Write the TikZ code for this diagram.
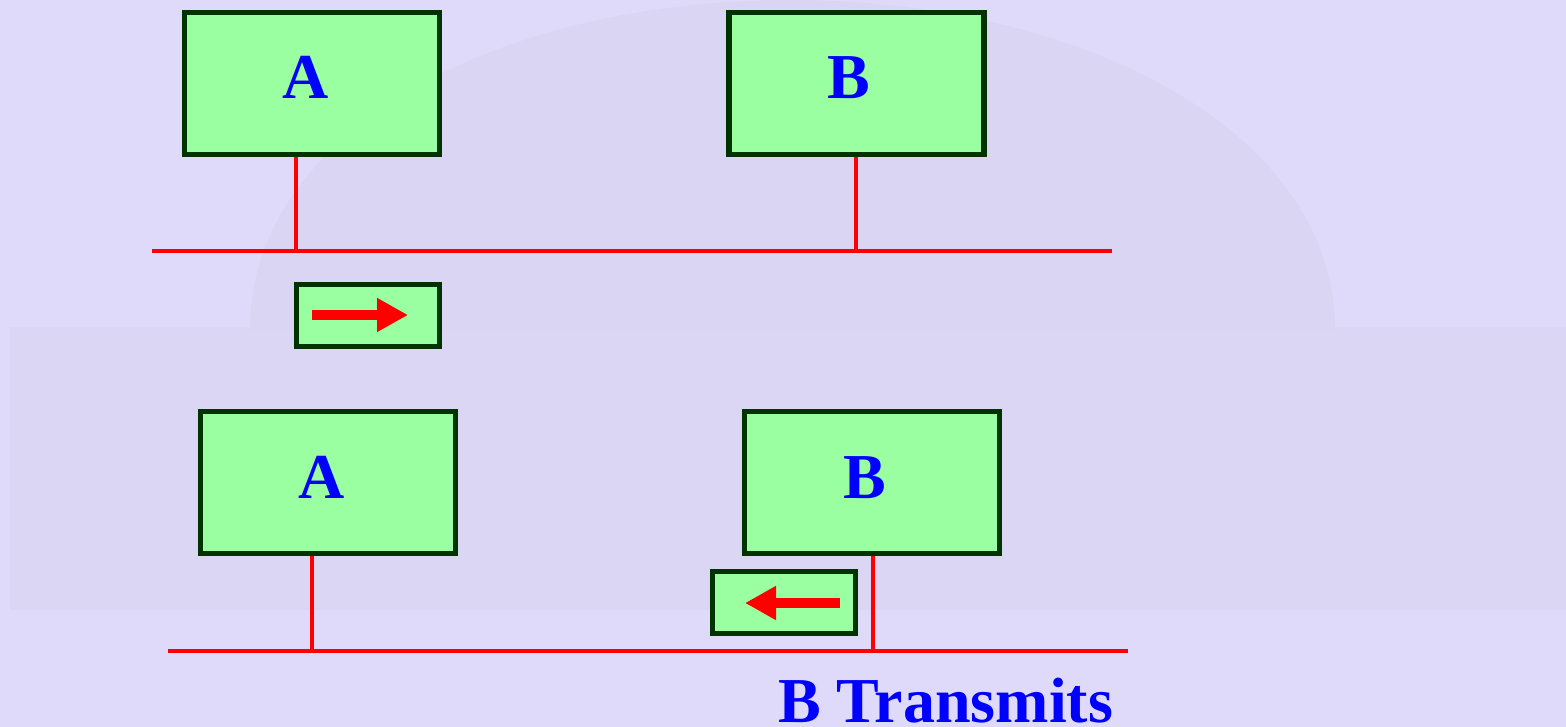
\documentclass[tikz,border=0pt]{standalone}
\usepackage{fontspec}
\setmainfont{Liberation Serif}
\usetikzlibrary{arrows.meta}
\definecolor{pagebg}{HTML}{DFDAFA}
\definecolor{photoband}{HTML}{DAD6F3}
\definecolor{dome}{HTML}{D9D5F2}
\definecolor{stationfill}{HTML}{99FFA0}
\definecolor{stationedge}{HTML}{003300}
\definecolor{labelblue}{HTML}{0000FF}
\definecolor{wire}{HTML}{FF0000}
\tikzset{
  station/.style={draw=stationedge, fill=stationfill, line width=5.5pt,
    minimum width=255pt, minimum height=142pt, inner sep=0pt},
  frame/.style={draw=stationedge, fill=stationfill, line width=5.5pt,
    minimum width=143pt, minimum height=62pt, inner sep=0pt},
  bus/.style={draw=wire, line width=4pt},
  flow/.style={draw=wire, line width=10pt,
    -{Triangle[length=31pt,width=32pt]}},
  biglabel/.style={text=labelblue, font=\fontsize{64}{64}\selectfont\bfseries,
    inner sep=0pt, anchor=base},
}
\begin{document}
\begin{tikzpicture}[x=1pt,y=-1pt]
  % page and faint backdrop
  \fill[pagebg] (0,0) rectangle (1566,727);
  \useasboundingbox (0,0) rectangle (1566,727);
  \fill[photoband] (10,327) rectangle (1566,610);
  \fill[dome] (250,330) .. controls (250,130) and (500,0) .. (790,0)
              .. controls (1080,0) and (1335,130) .. (1335,330) -- cycle;

  % ---------- upper scene: A transmits ----------
  \node[station] (A1) at (312,83.5) {};
  \node[station] (B1) at (856.5,83.5) {};
  \node[biglabel] (A1t) at (306,99) {A};
  \node[biglabel] (B1t) at (848.5,99) {B};

  \coordinate (bus1w) at (152,251);
  \coordinate (bus1e) at (1112,251);
  \coordinate (tapA1) at (296,251);
  \coordinate (tapB1) at (856,251);
  \draw[bus] (bus1w) -- (bus1e);
  \draw[bus] (tapA1) -- (tapA1 |- A1.south);
  \draw[bus] (tapB1) -- (tapB1 |- B1.south);

  \node[frame] (P1) at (368,315.5) {};
  \coordinate (P1tail) at (312,315);
  \coordinate (P1head) at (408,315);
  \draw[flow] (P1tail) -- (P1head);

  % ---------- lower scene: B transmits ----------
  \node[station] (A2) at (328,482.5) {};
  \node[station] (B2) at (872,482.5) {};
  \node[biglabel] (A2t) at (322,498) {A};
  \node[biglabel] (B2t) at (864.5,498) {B};

  \coordinate (bus2w) at (168,651);
  \coordinate (bus2e) at (1128,651);
  \coordinate (tapA2) at (312,651);
  \coordinate (tapB2) at (873,651);
  \draw[bus] (bus2w) -- (bus2e);
  \draw[bus] (tapA2) -- (tapA2 |- A2.south);
  \draw[bus] (tapB2) -- (tapB2 |- B2.south);

  \node[frame] (P2) at (784,602.5) {};
  \coordinate (P2tail) at (840,603);
  \coordinate (P2head) at (745,603);
  \draw[flow] (P2tail) -- (P2head);

  \node[biglabel, anchor=base west] (caption) at (778,722) {B Transmits};
\end{tikzpicture}
\end{document}
